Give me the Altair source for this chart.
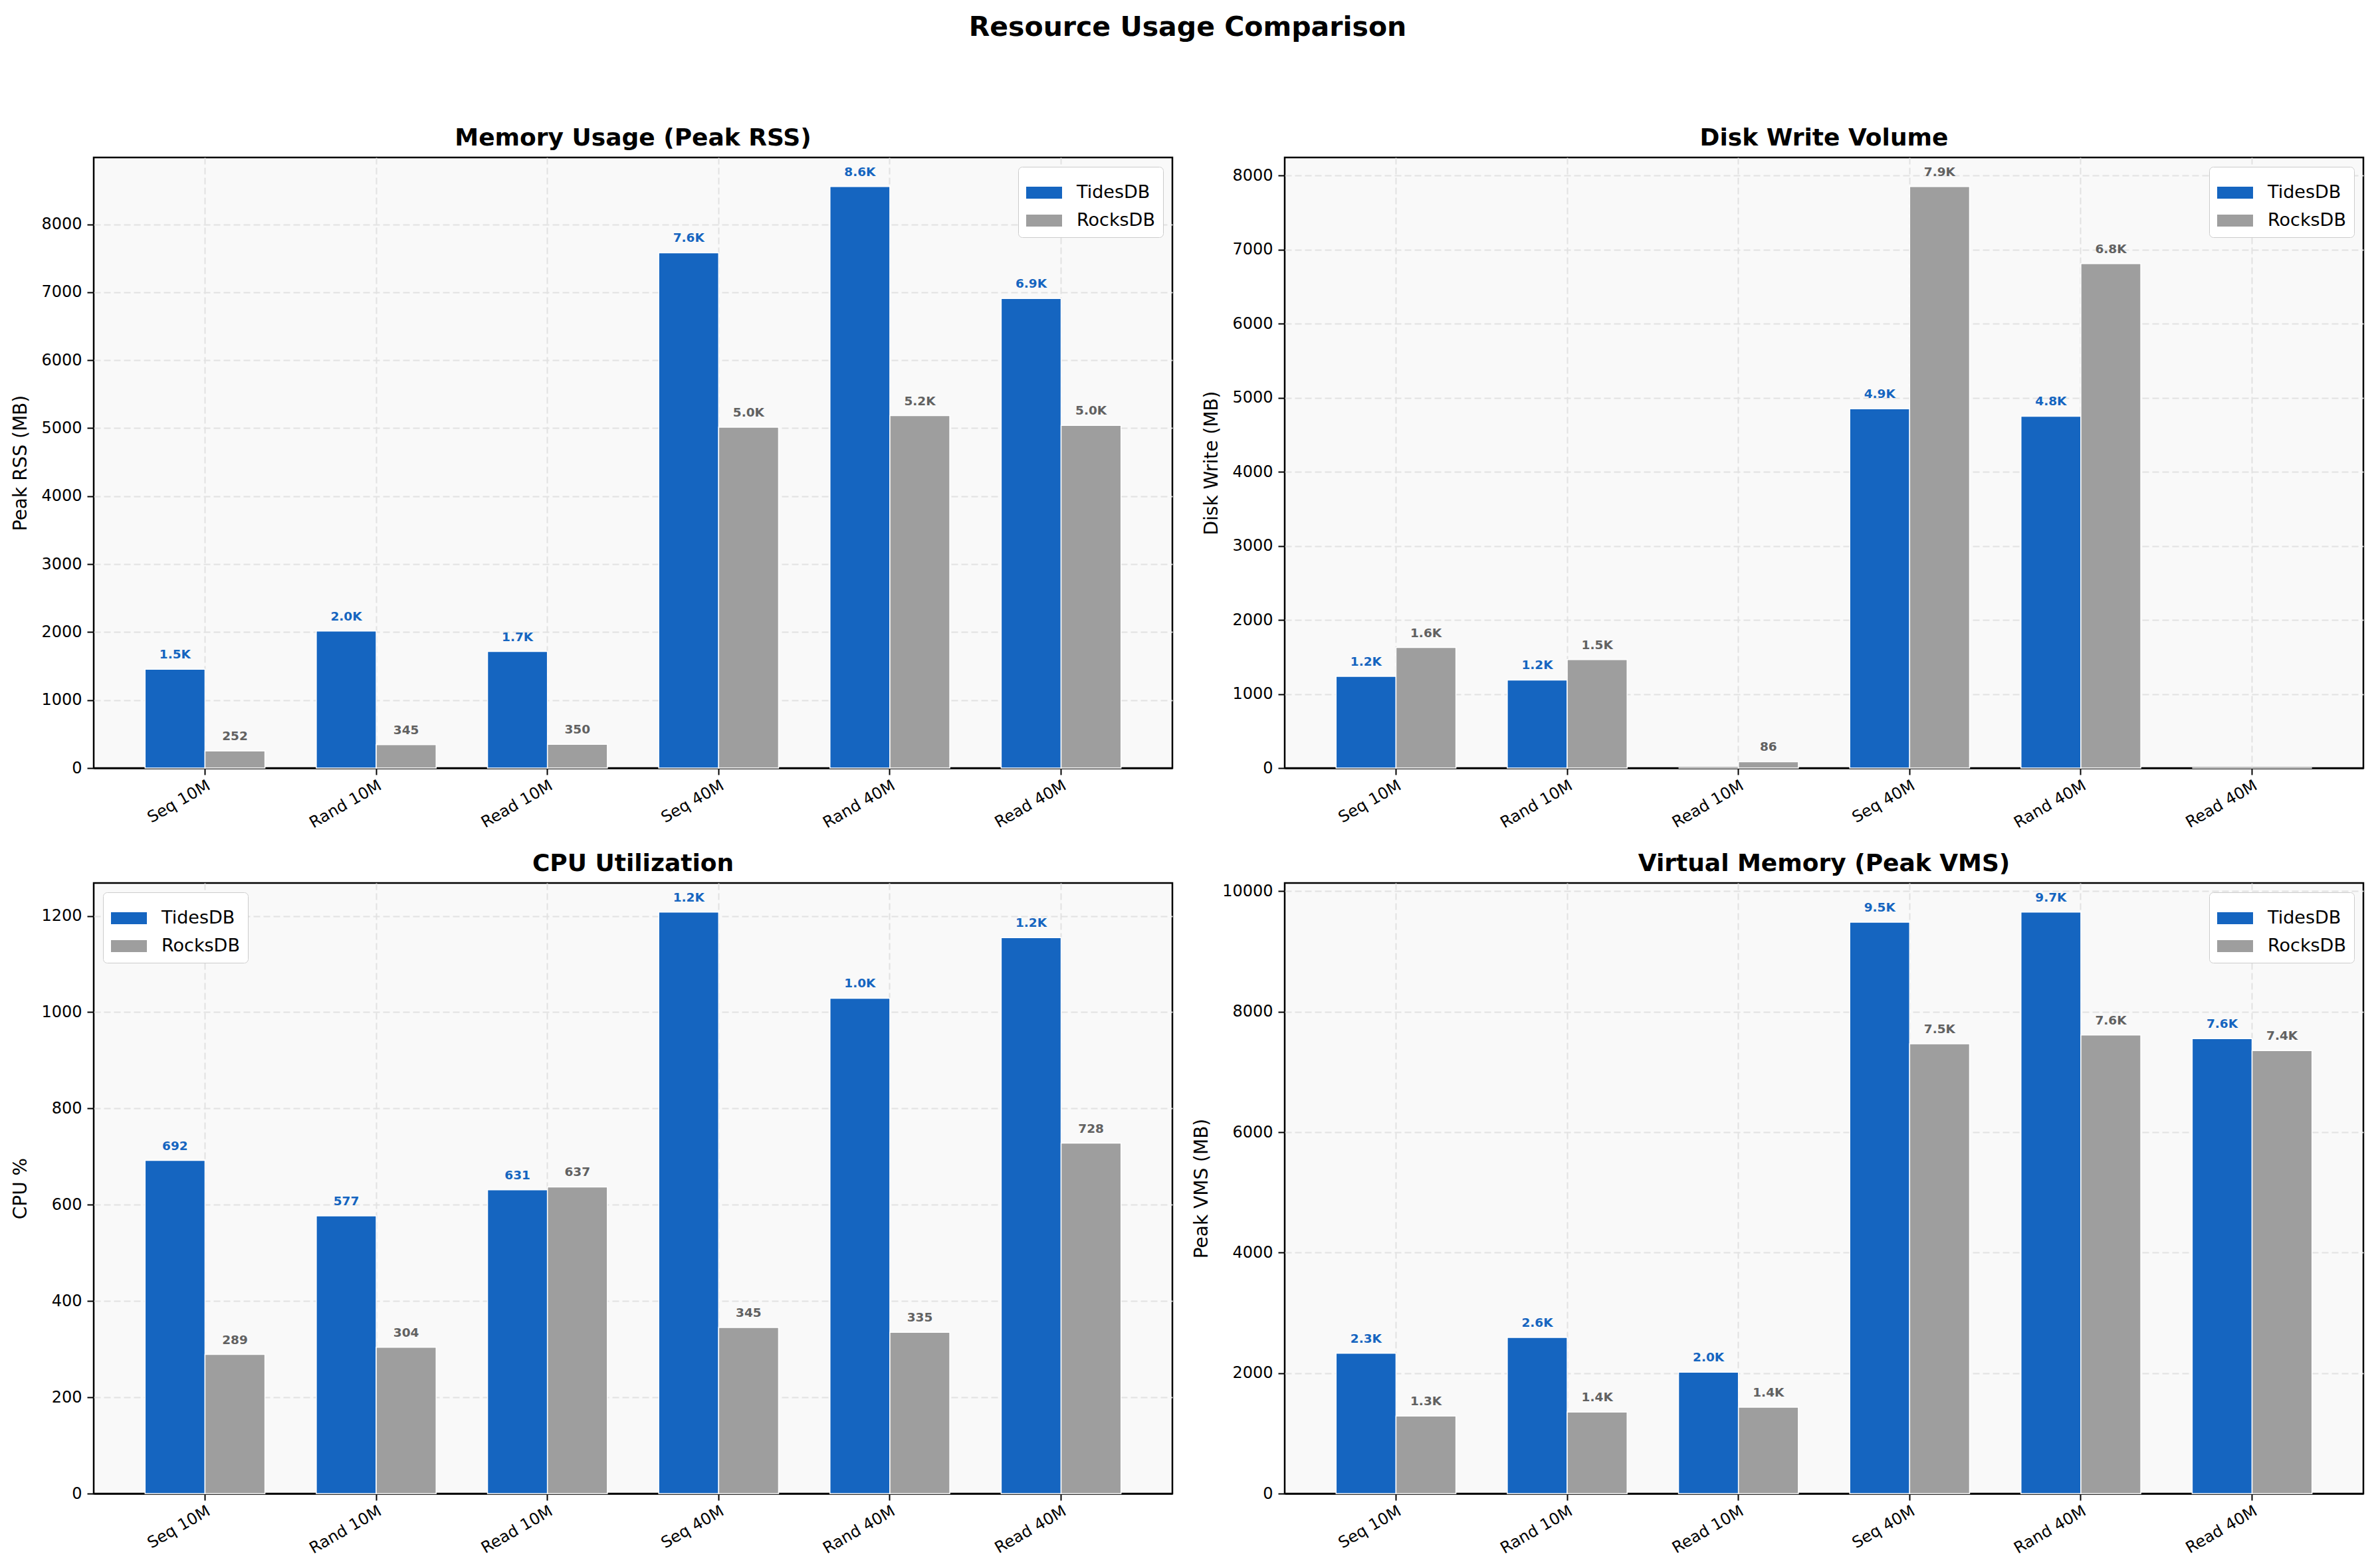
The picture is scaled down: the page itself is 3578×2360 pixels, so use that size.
import altair as alt
import pandas as pd

# -----------------------------
# Data
# -----------------------------
TESTS = ["Seq 10M", "Rand 10M", "Read 10M", "Seq 40M", "Rand 40M", "Read 40M"]
ENGINES = ["TidesDB", "RocksDB"]

rss_tides = [1455, 2016, 1715, 7581, 8555, 6907]
rss_rocks = [252, 345, 350, 5015, 5185, 5041]

disk_tides = [1237, 1189, 0, 4852, 4751, 0]
disk_rocks = [1628, 1465, 86, 7852, 6811, 0]

cpu_tides = [692, 577, 631, 1208, 1029, 1155]
cpu_rocks = [289, 304, 637, 345, 335, 728]

vms_tides = [2331, 2592, 2017, 9486, 9655, 7554]
vms_rocks = [1288, 1355, 1434, 7469, 7615, 7354]

# -----------------------------
# Styling
# -----------------------------
FONT = "DejaVu Sans"
BLUE = "#1565C0"
GRAY = "#9E9E9E"
GRAY_TEXT = "#616161"
GRID = "#e2e2e2"
PANEL_W = 1623
PANEL_H = 919

LEGEND_SYMBOL = "M-1,-0.333L1,-0.333L1,0.333L-1,0.333Z"


def _fmt(v: float) -> str:
    return f"{v / 1000:.1f}K" if v >= 1000 else f"{v:.0f}"


def panel(tides, rocks, title, ytitle, step, legend_orient):
    df = pd.DataFrame(
        {
            "test": TESTS * 2,
            "engine": ["TidesDB"] * len(TESTS) + ["RocksDB"] * len(TESTS),
            "value": list(tides) + list(rocks),
        }
    )
    df["label"] = df["value"].map(_fmt)

    top = max(df["value"]) * 1.05
    ticks = list(range(0, int(top) + 1, step))

    x = alt.X(
        "test:N",
        sort=TESTS,
        title=None,
        scale=alt.Scale(paddingInner=0.3, paddingOuter=0.3),
        axis=alt.Axis(
            labelAngle=330,
            labelAlign="right",
            labelBaseline="top",
            labelPadding=4,
            bandPosition=0.5,
        ),
    )
    x_off = alt.XOffset(
        "engine:N",
        sort=ENGINES,
        scale=alt.Scale(domain=ENGINES, paddingInner=0, paddingOuter=0),
    )
    # the grid line at 0 doubles as the solid bottom spine
    y = alt.Y(
        "value:Q",
        scale=alt.Scale(domain=[0, top], nice=False, zero=True),
        axis=alt.Axis(
            values=ticks,
            title=ytitle,
            format="d",
            gridColor=alt.condition("datum.value === 0", alt.value("black"), alt.value(GRID)),
            gridDash=alt.condition("datum.value === 0", alt.value([1, 0]), alt.value([10, 5])),
            gridWidth=alt.condition("datum.value === 0", alt.value(2.5), alt.value(2)),
        ),
    )

    bars = (
        alt.Chart(df)
        .mark_bar(stroke="white", strokeWidth=1.5, opacity=1)
        .encode(
            x=x,
            xOffset=x_off,
            y=y,
            color=alt.Color(
                "engine:N",
                sort=ENGINES,
                scale=alt.Scale(domain=ENGINES, range=[BLUE, GRAY]),
                legend=alt.Legend(
                    title=None,
                    orient=legend_orient,
                    offset=14,
                    fillColor="white",
                    strokeColor="#cccccc",
                    cornerRadius=6,
                    padding=12,
                    labelFont=FONT,
                    labelFontSize=27,
                    labelColor="black",
                    labelOffset=22,
                    symbolType=LEGEND_SYMBOL,
                    symbolSize=2916,
                    symbolStrokeWidth=0,
                    symbolOpacity=1,
                    rowPadding=2,
                ),
            ),
        )
    )

    labels = (
        alt.Chart(df)
        .transform_filter("datum.value > 0")
        .mark_text(font=FONT, fontSize=18.5, fontWeight="bold", baseline="alphabetic", dy=-16)
        .encode(
            x=x,
            xOffset=x_off,
            y=y,
            text="label:N",
            color=alt.condition(alt.datum.engine == "TidesDB", alt.value(BLUE), alt.value(GRAY_TEXT)),
        )
    )

    return alt.layer(bars, labels).properties(
        title=title,
        width=PANEL_W,
        height=PANEL_H,
    )


p_rss = panel(rss_tides, rss_rocks, "Memory Usage (Peak RSS)", "Peak RSS (MB)", 1000, "top-right")
p_disk = panel(disk_tides, disk_rocks, "Disk Write Volume", "Disk Write (MB)", 1000, "top-right")
p_cpu = panel(cpu_tides, cpu_rocks, "CPU Utilization", "CPU %", 200, "top-left")
p_vms = panel(vms_tides, vms_rocks, "Virtual Memory (Peak VMS)", "Peak VMS (MB)", 2000, "top-right")

chart = (
    alt.concat(p_rss, p_disk, p_cpu, p_vms, columns=2, spacing=27)
    .resolve_scale(color="independent", x="independent", y="independent", xOffset="independent")
    .properties(
        title=alt.TitleParams(
            text="Resource Usage Comparison",
            font=FONT,
            fontSize=41,
            fontWeight="bold",
            anchor="middle",
            color="black",
            offset=126,
        ),
        padding={"left": 8, "top": 12, "right": 4, "bottom": 4},
        background="white",
    )
    .configure_view(fill="#f9f9f9", stroke="black", strokeWidth=2.5)
    .configure_title(font=FONT, fontSize=36, fontWeight="bold", color="black", offset=10)
    .configure_axis(
        labelFont=FONT,
        labelFontSize=24,
        labelColor="black",
        titleFont=FONT,
        titleFontSize=28,
        titleFontWeight="normal",
        titleColor="black",
        titlePadding=16,
        tickColor="black",
        tickSize=10,
        tickWidth=2,
        domain=False,
        grid=True,
        gridColor=GRID,
        gridDash=[10, 5],
        gridWidth=2,
        labelPadding=8,
    )
)

chart.save("out.html", embed_options={"renderer": "svg", "actions": False})
